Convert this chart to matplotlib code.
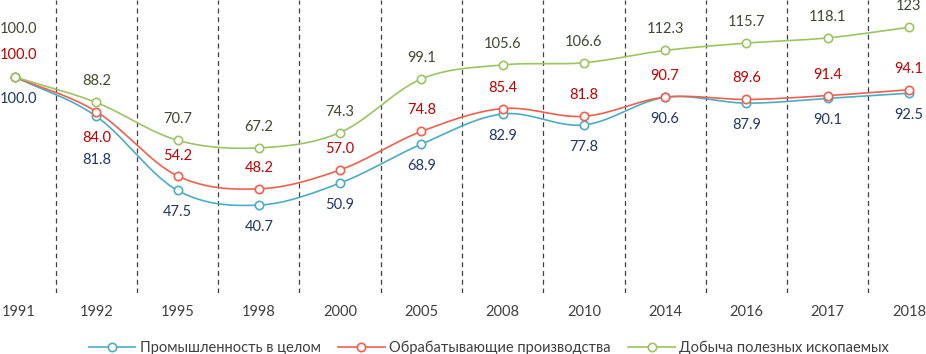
import matplotlib
matplotlib.use("Agg")
import matplotlib.pyplot as plt
import matplotlib.transforms as mtransforms
import numpy as np

years = ["1991", "1992", "1995", "1998", "2000", "2005", "2008", "2010",
         "2014", "2016", "2017", "2018"]
industry = [100.0, 81.8, 47.5, 40.7, 50.9, 68.9, 82.9, 77.8, 90.6, 87.9, 90.1, 92.5]
manufacturing = [100.0, 84.0, 54.2, 48.2, 57.0, 74.8, 85.4, 81.8, 90.7, 89.6, 91.4, 94.1]
mining = [100.0, 88.2, 70.7, 67.2, 74.3, 99.1, 105.6, 106.6, 112.3, 115.7, 118.1, 123]
mining_text = ["100.0", "88.2", "70.7", "67.2", "74.3", "99.1", "105.6", "106.6",
               "112.3", "115.7", "118.1", "123"]

names = ["Промышленность в целом", "Обрабатывающие производства", "Добыча полезных ископаемых"]

# label offsets in pixels (positive = up); Excel labels were hand-placed in a few spots
ind_dy = [-22, -44, -22, -22, -22, -22, -22, -22, -22, -22, -22, -22]
man_dy = [22, -26, 20, 21, 21, 21, 21, 21, 21, 21, 21, 21]
min_dy = [48, 21, 21, 21, 21, 21, 21, 21, 21, 21, 21, 21]

plt.rcParams["font.family"] = ["Lato", "DejaVu Sans"]

DPI = 100
fig = plt.figure(figsize=(9.26, 3.54), dpi=DPI)
ax = fig.add_axes([0, (354 - 293) / 354, 1, 293 / 354])

n = len(years)
x = np.arange(n)
ax.set_xlim(-15 / 81.27, 11 + 17 / 81.27)
ax.set_ylim(0, 293 / 2.16)


def smooth(xs, ys, steps=30):
    # Catmull-Rom spline, like Excel's smoothed line
    xs = np.asarray(xs, float)
    ys = np.asarray(ys, float)
    px = np.concatenate([[2 * xs[0] - xs[1]], xs, [2 * xs[-1] - xs[-2]]])
    py = np.concatenate([[2 * ys[0] - ys[1]], ys, [2 * ys[-1] - ys[-2]]])
    ox, oy = [], []
    t = np.linspace(0, 1, steps)
    for i in range(1, len(px) - 2):
        for p, out in ((px, ox), (py, oy)):
            p0, p1, p2, p3 = p[i - 1], p[i], p[i + 1], p[i + 2]
            out.extend(0.5 * ((2 * p1) + (-p0 + p2) * t
                              + (2 * p0 - 5 * p1 + 4 * p2 - p3) * t ** 2
                              + (-p0 + 3 * p1 - 3 * p2 + p3) * t ** 3))
    return ox, oy


series = [
    (industry, "#4BACC6", "#1F3864", ind_dy, [f"{v:.1f}" for v in industry]),
    (manufacturing, "#F0604F", "#C00000", man_dy, [f"{v:.1f}" for v in manufacturing]),
    (mining, "#9BC462", "#3F4A2E", min_dy, mining_text),
]

handles = []
for (vals, col, tcol, dys, texts), name in zip(series, names):
    sx, sy = smooth(x, vals)
    ax.plot(sx, sy, color=col, lw=1.2, zorder=3)
    ax.plot(x, vals, "o", ms=6, mfc="white", mec=col, mew=1.2, zorder=4)
    handles.append(plt.Line2D([], [], color=col, lw=1.2, marker="o", ms=6,
                              mfc="white", mec=col, mew=1.2))
    for i, (v, dy, t) in enumerate(zip(vals, dys, texts)):
        xo = 3 if i == 0 else 0
        ax.annotate(t, (x[i], v), xytext=(xo * 72 / DPI, dy * 72 / DPI),
                    textcoords="offset points", ha="center", va="center",
                    fontsize=10.5, color=tcol, zorder=5)

for i in range(n - 1):
    ax.axvline(i + 0.5, color="#404040", lw=0.9, ls=(0, (4, 3)), zorder=1)

for s in ax.spines.values():
    s.set_visible(False)
ax.set_yticks([])
ax.set_xticks(x)
ax.set_xticklabels(years, fontsize=10.5, color="#404040")
ax.tick_params(axis="x", length=0, pad=9)
# first label sits against the left edge in the original
first = ax.get_xticklabels()[0]
first.set_transform(first.get_transform() +
                    mtransforms.ScaledTranslation(4 / DPI, 0, fig.dpi_scale_trans))

fig.legend(handles, names, loc="center", bbox_to_anchor=(0.528, 1 - 348 / 354),
           ncol=3, frameon=False, fontsize=10.5, handlelength=3.2,
           columnspacing=1.2, handletextpad=0.3, labelcolor="#404040")

fig.savefig("out.png", dpi=DPI)
